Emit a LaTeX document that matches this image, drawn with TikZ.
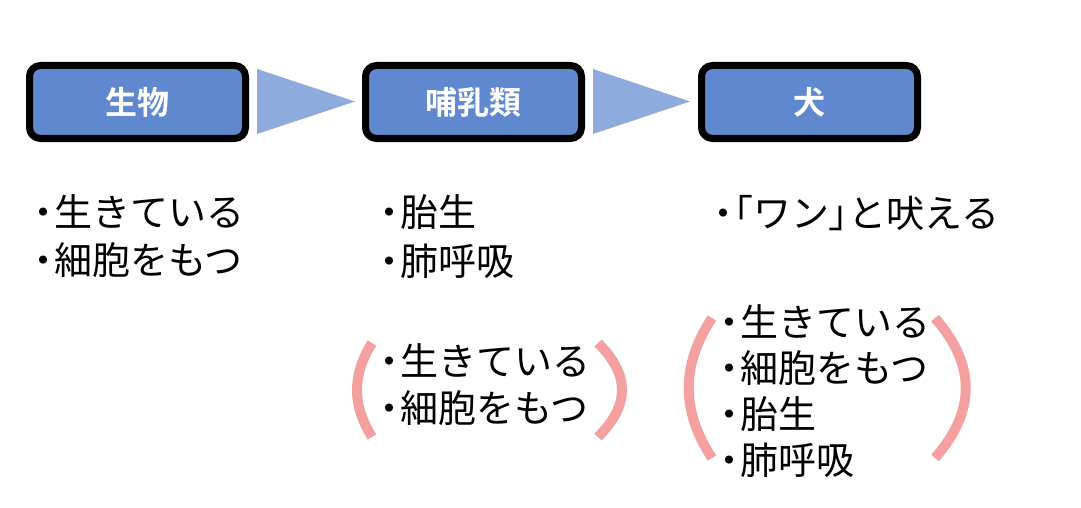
\documentclass[tikz,border=0pt]{standalone}
\usepackage{fontspec}
\newfontfamily\jp[BoldFont={Noto Sans CJK JP Bold}]{Noto Sans CJK JP}
\newfontfamily\jpp[RawFeature=+palt]{Noto Sans CJK JP}
\newcommand{\dt}{{\jpp ・}\kern1pt}
\newcommand{\lb}{{\jpp 「}}
\newcommand{\rb}{{\jpp 」}}
\definecolor{boxblue}{RGB}{96,136,206}
\definecolor{triblue}{RGB}{143,170,220}
\definecolor{parpink}{RGB}{245,160,160}
\tikzset{
  catbox/.style={draw=black, line width=7pt, rounded corners=11pt, fill=boxblue,
    minimum width=216pt, minimum height=73pt, inner sep=0pt,
    text=white, font=\jp\bfseries\fontsize{32}{36}\selectfont},
  tri/.style={fill=triblue},
  item/.style={anchor=base west, inner sep=0pt, font=\jp\fontsize{38}{44}\selectfont},
  paren/.style={draw=parpink, line width=10pt}
}
\begin{document}
\begin{tikzpicture}[x=1pt,y=-1pt]
\useasboundingbox (0,0) rectangle (1081,508);
\node[catbox] (b1) at (137.5,102) {生物};
\node[catbox] (b2) at (473.5,102) {哺乳類};
\node[catbox] (b3) at (809.5,102) {犬};
\fill[tri] (257,69) -- (257,134) -- (355,101.5) -- cycle;
\fill[tri] (593,69) -- (593,134) -- (690,101.5) -- cycle;
% left list
\node[item] (l1) at (34,226) {\dt 生きている};
\node[item] (l2) at (34,274) {\dt 細胞をもつ};
% middle list
\node[item] (m1) at (380,226) {\dt 胎生};
\node[item] (m2) at (380,275) {\dt 肺呼吸};
\node[item] (m3) at (380,375) {\dt 生きている};
\node[item] (m4) at (380,422) {\dt 細胞をもつ};
% right list
\node[item] (r1) at (714,227) {\dt\lb ワン\rb と吠える};
\node[item] (r2) at (720,336) {\dt 生きている};
\node[item] (r3) at (720,382) {\dt 細胞をもつ};
\node[item] (r4) at (720,428) {\dt 胎生};
\node[item] (r5) at (720,474) {\dt 肺呼吸};
% parentheses
\draw[paren] (372,343) .. controls (352,375) and (352,405) .. (372,437);
\draw[paren] (598,343) .. controls (630,375) and (630,405) .. (598,437);
\draw[paren] (712,318) .. controls (681,365) and (681,411) .. (712,458);
\draw[paren] (935,318) .. controls (976,365) and (976,411) .. (935,458);
\end{tikzpicture}
\end{document}
